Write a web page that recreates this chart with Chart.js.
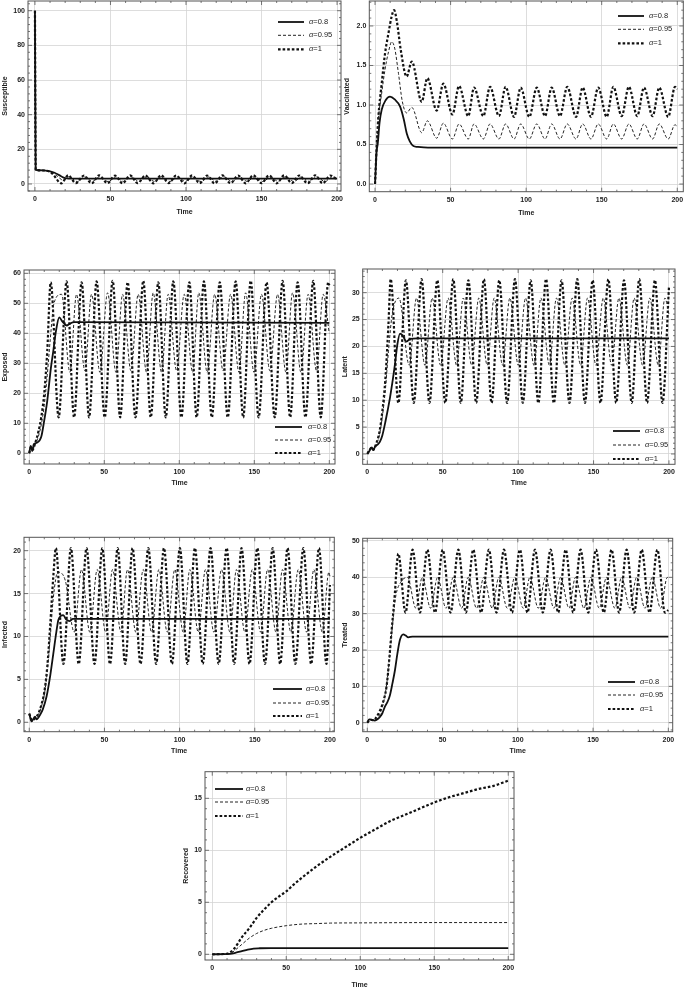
<!DOCTYPE html>
<html><head><meta charset="utf-8">
<script src="https://cdn.jsdelivr.net/npm/chart.js@4.4.0/dist/chart.umd.min.js"></script>
<style>
html,body{margin:0;padding:0;background:#fff;overflow:hidden;width:685px;height:988px;position:relative}
canvas{position:absolute;display:block}
</style></head><body>
<script>
// ---------------- DATA ----------------
const seriesLabels = ['α=0.8', 'α=0.95', 'α=1'];
const xTickStep = 50;

// Susceptible
const S_a08 = [[0,100],[0.5,8.2],[5,7.9],[10,7.3],[13,6.5],[16,5.1],[19,3.7],[21,3.2],[24,3.1],[200,3.1]];
const S_a095 = [[0,100],[0.5,8.2],[5,7.9],[10,7.2],[13,6],[16,3.6],[19,2],[22.5,4.2],[28,1.4],[33,4.1],[38,1.5],[43,4.2],[48.5,1.4],[53.5,4.1],[58.5,1.5],[63.5,4.2],[69,1.4],[74,4.1],[79,1.5],[84,4.2],[89.5,1.4],[94.5,4.1],[99.5,1.5],[104.5,4.2],[110,1.4],[115,4.1],[120,1.5],[125,4.2],[130.5,1.4],[135.5,4.1],[140.5,1.5],[145.5,4.2],[151,1.4],[156,4.1],[161,1.5],[166,4.2],[171.5,1.4],[176.5,4.1],[181.5,1.5],[186.5,4.2],[192,1.4],[197,4.1],[200,2.6]];
const S_a1 = [[0,100],[0.5,8.2],[5,7.8],[10,7],[13,4.5],[16,1],[17.5,0.4],[22,5],[27,0.5],[32.5,4.9],[37.5,0.4],[42.5,5],[48,0.5],[53,4.9],[58,0.4],[63,5],[68,0.5],[73,4.9],[78.5,0.4],[83.5,5],[88.5,0.5],[93.5,4.9],[99,0.4],[104,5],[109,0.5],[114,4.9],[119,0.4],[124,5],[129.5,0.5],[134.5,4.9],[139.5,0.4],[144.5,5],[150,0.5],[155,4.9],[160,0.4],[165,5],[170,0.5],[175,4.9],[180.5,0.4],[185.5,5],[190.5,0.5],[195.5,4.9],[200,2.5]];

// Vaccinated
const V_a08 = [[0,0],[1,0.4],[1.8,0.51],[3,0.78],[4.4,0.94],[7,1.06],[9.9,1.105],[13,1.07],[16.6,0.98],[19,0.82],[21,0.64],[23,0.54],[25.4,0.48],[28,0.47],[35,0.46],[200,0.46]];
const V_a095 = [[0,0],[1,0.45],[2.2,0.82],[4.4,1.15],[6.6,1.45],[9,1.68],[11,1.8],[13,1.72],[15.5,1.4],[18,1.05],[20.9,0.9],[24.3,0.97],[30.9,0.65],[34.6,0.8],[40.8,0.58],[45.2,0.77],[51.2,0.57],[55.6,0.76],[61.7,0.57],[65.5,0.76],[71.7,0.57],[76.1,0.76],[82,0.57],[86.4,0.76],[92,0.57],[96.4,0.76],[102.1,0.57],[107,0.76],[112.5,0.57],[116.9,0.76],[122.4,0.57],[127.2,0.76],[133,0.57],[137.4,0.76],[142.9,0.57],[147.7,0.76],[153.3,0.57],[157.7,0.76],[163.2,0.57],[168,0.76],[173.5,0.57],[178,0.76],[183.7,0.57],[188.1,0.76],[194,0.57],[198.5,0.75],[200,0.73]];
const V_a1 = [[0,0],[1,0.45],[2.2,0.85],[4.4,1.27],[6.6,1.65],[8.8,1.9],[11,2.12],[12.6,2.2],[14.5,2.05],[17,1.7],[20.9,1.36],[24.3,1.55],[30.9,1.04],[34.6,1.34],[40.8,0.93],[45.2,1.27],[51.2,0.88],[55.6,1.24],[61.7,0.86],[65.5,1.22],[71.7,0.86],[76.1,1.23],[82,0.86],[86.4,1.23],[92,0.85],[96.4,1.22],[102.1,0.85],[107,1.22],[112.5,0.86],[116.9,1.22],[122.4,0.86],[127.2,1.23],[133,0.85],[137.4,1.22],[142.9,0.85],[147.7,1.22],[153.3,0.85],[157.7,1.23],[163.2,0.86],[168,1.23],[173.5,0.86],[178,1.22],[183.7,0.86],[188.1,1.22],[194,0.85],[198.5,1.23],[200,1.2]];

// Exposed
const E_a08 = [[0,0],[1,2.5],[2,0.8],[3,3],[5,3.5],[8,5.5],[10,11],[12,17.5],[14.4,28.3],[16,34],[17.8,40.7],[20,45.3],[22,44],[25,42.6],[27,43.2],[30,43.7],[200,43.5]];
const E_a095 = [[0,0],[1,2],[2,1],[4,3],[6,5.5],[8,9.5],[10,16],[12,26],[14,38],[16.5,50],[21.5,53],[27.1,27],[31.5,53],[37.1,27.5],[41.5,53],[47.1,27],[52.2,53.5],[57.8,27],[62.2,53],[67.8,27.5],[72.6,53],[78.2,27],[82.6,53.5],[88.2,27],[92.6,53],[98.2,27.5],[103.3,53],[108.9,27],[113,53.5],[118.6,27],[123.6,53],[129.2,27.5],[134.2,53],[139.8,27],[144.2,53.5],[149.8,27],[154.8,53],[160.4,27.5],[165.5,53],[171.1,27],[175.5,53.5],[181.1,27],[185.9,53],[191.5,27.5],[195.9,53],[200,40]];
const E_a1 = [[0,0],[1,2],[2,1],[4,3.5],[6,7],[8,12],[10,20],[12,34],[14.3,57],[19.6,12],[24.9,57.3],[29.9,12],[34.9,57],[39.9,12],[44.9,57.3],[50.3,12],[55.6,57.5],[60.6,12],[65.6,57],[70.8,12],[76,57.5],[81,12],[86,57],[91,12],[96,57.3],[101.4,12],[106.7,57],[111.6,12],[116.4,57.3],[121.7,12],[127,57],[132.3,12],[137.6,57.3],[142.6,12],[147.6,57.5],[152.9,12],[158.2,57],[163.6,12],[168.9,57.5],[173.9,12],[178.9,57],[184.1,12],[189.3,57.5],[194.3,12],[199.3,57],[200,56]];

// Latent
const L_a08 = [[0,0],[1,0.4],[3,1.2],[4,0.7],[5,1.3],[7,1.8],[8.4,2.3],[10,3.5],[12,6],[15,10.4],[17,14],[18.3,16.6],[20,20.5],[21.7,22.4],[23.5,22],[26,20.9],[28.5,21.4],[33,21.5],[200,21.5]];
const L_a095 = [[0,0],[1,0.5],[3,1.2],[4,0.7],[6,1.8],[8,3.5],[10,7],[12,12],[14,19],[16.5,26],[21,29],[27.8,16.5],[32.6,29],[38.2,16.5],[43,29],[48.6,16.5],[53.6,29],[59.2,16.5],[63.6,29],[69.2,16.5],[73.9,29],[79.5,16.5],[84.1,29],[89.7,16.5],[94.5,29],[100.1,16.5],[104.9,29],[110.5,16.5],[115.1,29],[120.7,16.5],[125.4,29],[131,16.5],[135.8,29],[141.4,16.5],[146,29],[151.6,16.5],[156.4,29],[162,16.5],[166.8,29],[172.4,16.5],[176.9,29],[182.5,16.5],[187.3,29],[192.9,16.5],[197.3,29],[200,26]];
const L_a1 = [[0,0],[1,0.5],[3,1.2],[4,0.8],[6,2],[8,4],[10,8],[12,14],[14,24],[15.5,32.5],[20.6,9.5],[25.6,32.3],[30.8,9.5],[36,32.5],[41.2,9.5],[46.4,32.3],[51.7,9.5],[57,32.5],[62,9.5],[67,32.3],[72.2,9.5],[77.3,32.5],[82.4,9.5],[87.5,32.3],[92.7,9.5],[97.9,32.5],[103.1,9.5],[108.3,32.3],[113.4,9.5],[118.5,32.5],[123.7,9.5],[128.8,32.3],[134,9.5],[139.2,32.5],[144.3,9.5],[149.4,32.3],[154.6,9.5],[159.8,32.5],[165,9.5],[170.2,32.3],[175.3,9.5],[180.3,32.5],[185.5,9.5],[190.7,32.3],[195.7,9.5],[200,31]];

// Infected
const I_a08 = [[0,1],[1.5,0.1],[3.8,0.65],[4.9,0.35],[7.1,0.85],[9,1.5],[11.5,3],[14,5.5],[16,8],[18,10.5],[19.3,11.9],[21,12.4],[22.6,12.5],[24.5,12],[27,11.8],[29,12.05],[33,12.05],[200,12.05]];
const I_a095 = [[0,1],[1.5,0.2],[4,0.6],[6,0.9],[8,1.8],[10,3.2],[12,6],[14,10],[16,14.5],[19,17.5],[24,16.5],[29.9,10.5],[34.7,17.8],[40.3,10.5],[45.2,17.8],[50.8,10.5],[55.4,17.8],[61,10.5],[65.3,17.8],[70.9,10.5],[75.8,17.8],[81.4,10.5],[86.2,17.8],[91.8,10.5],[96.8,17.8],[102.4,10.5],[106.8,17.8],[112.4,10.5],[117.2,17.8],[122.8,10.5],[127.9,17.8],[133.5,10.5],[137.8,17.8],[143.4,10.5],[148.3,17.8],[153.9,10.5],[158.5,17.8],[164.1,10.5],[168.4,17.8],[174,10.5],[178.9,17.8],[184.5,10.5],[189.3,17.8],[194.9,10.5],[199.3,17.5],[200,17]];
const I_a1 = [[0,1],[1,0.5],[2,0.2],[4,0.5],[6,1],[8,2],[10,3.5],[12,6.5],[14,11.5],[16,17],[17.7,20.3],[22.7,6.8],[27.7,20.3],[32.9,6.8],[38.1,20.3],[43.4,6.8],[48.6,20.3],[53.7,6.8],[58.8,20.3],[63.8,6.8],[68.7,20.3],[74,6.8],[79.2,20.3],[84.4,6.8],[89.6,20.3],[94.9,6.8],[100.2,20.3],[105.2,6.8],[110.2,20.3],[115.4,6.8],[120.6,20.3],[126,6.8],[131.3,20.3],[136.3,6.8],[141.2,20.3],[146.5,6.8],[151.7,20.3],[156.8,6.8],[161.9,20.3],[166.9,6.8],[171.8,20.3],[177,6.8],[182.3,20.3],[187.5,6.8],[192.7,20.3],[197.7,6.8],[200,16]];

// Treated
const T_a08 = [[0,0],[1.3,0.9],[3,0.8],[5,0.6],[7,1],[8.4,1.6],[10,2.6],[11.7,4.4],[13.5,5.8],[15,7.5],[16.7,10.8],[18.4,14.5],[20,19],[21.7,22.8],[23.9,24.3],[25.5,24],[27.2,23.5],[30,23.7],[200,23.7]];
const T_a095 = [[0,0],[1.3,0.9],[3,0.8],[5,0.8],[7,1.3],[9,3],[11,6],[13,11],[15,19],[17,28],[19,35],[22,38.5],[26.7,40],[32.3,31.5],[36.5,40],[42.1,31.5],[46.7,40],[52.3,31.5],[57.1,40],[62.7,31.5],[67,40],[72.6,31.5],[77.4,40],[83,31.5],[87.4,40],[93,31.5],[98,40],[103.6,31.5],[108,40],[113.6,31.5],[118.4,40],[124,31.5],[128.4,40],[134,31.5],[138.3,40],[143.9,31.5],[148.5,40],[154.1,31.5],[158.9,40],[164.5,31.5],[168.9,40],[174.5,31.5],[178.9,40],[184.5,31.5],[189.3,40],[194.9,31.5],[199.3,40],[200,39.5]];
const T_a1 = [[0,0],[2,0.8],[4,0.7],[6,1.5],[8,3],[10,5],[12.8,10],[14.5,17],[16.2,25.5],[18.4,36],[19.5,43],[20.6,46.5],[25.4,30.3],[30.1,47.6],[35,30.3],[39.9,47.6],[45,30.3],[50.1,47.6],[55.3,30.3],[60.5,47.6],[65.5,30.3],[70.4,47.6],[75.6,30.3],[80.8,47.6],[85.8,30.3],[90.8,47.6],[96.1,30.3],[101.4,47.6],[106.4,30.3],[111.4,47.6],[116.6,30.3],[121.8,47.6],[126.8,30.3],[131.8,47.6],[136.8,30.3],[141.7,47.6],[146.8,30.3],[151.9,47.6],[157.1,30.3],[162.3,47.6],[167.3,30.3],[172.3,47.6],[177.3,30.3],[182.3,47.6],[187.5,30.3],[192.7,47.6],[197.7,30.3],[200,31]];

// Recovered
const R_a08 = [[0,0],[12,0.03],[16,0.15],[20,0.3],[24,0.45],[28,0.55],[32,0.58],[40,0.6],[200,0.6]];
const R_a095 = [[0,0],[12,0.05],[15,0.35],[20,0.95],[25,1.55],[30,2],[35,2.3],[40,2.5],[50,2.75],[60,2.9],[70,2.95],[80,3],[100,3.02],[150,3.05],[200,3.05]];
const R_a1 = [[0,0],[10,0.05],[14.9,0.55],[19.8,1.6],[25,2.5],[30,3.5],[35,4.3],[40,5],[45,5.55],[50,6.05],[55,6.7],[60,7.3],[70,8.4],[80,9.4],[90,10.3],[100,11.2],[110,12],[120,12.8],[130,13.4],[140,14],[150,14.6],[160,15.1],[170,15.5],[180,15.9],[190,16.2],[200,16.7]];

// ---------------- LAYOUT / STYLE ----------------
const lineStyles = [
  {color:'#111', width:1.8, dash:[]},
  {color:'#222', width:1.0, dash:[3,2]},
  {color:'#111', width:2.2, dash:[2.6,2]}
];
const panels = [
  {title:'Susceptible', series:[S_a08,S_a095,S_a1], frame:[28,1,341,191], yTX:5, xTY:212, x:[-4.6,202.6], y:[-4.04,105.6], yStep:20, dec:0, leg:{x1:278,x2:304,tx:309,rows:[22,35.3,49.3]}},
  {title:'Vaccinated', series:[V_a08,V_a095,V_a1], frame:[369.3,1,683.3,191.7], yTX:347, xTY:213, x:[-3.8,204], y:[-0.097,2.316], yStep:0.5, dec:1, leg:{x1:618,x2:644,tx:649,rows:[16,29.3,43.3]}},
  {title:'Exposed', series:[E_a08,E_a095,E_a1], frame:[24,270,335,464], yTX:5, xTY:483, x:[-3.5,203.8], y:[-3.57,61.1], yStep:10, dec:0, leg:{x1:275,x2:302,tx:308,rows:[427,440,453]}},
  {title:'Latent', series:[L_a08,L_a095,L_a1], frame:[362.7,269,675,464.3], yTX:345, xTY:483, x:[-3.05,204], y:[-1.92,34.4], yStep:5, dec:0, leg:{x1:613,x2:640,tx:645,rows:[431,445,459]}},
  {title:'Infected', series:[I_a08,I_a095,I_a1], frame:[24,537.3,334.3,731.7], yTX:5, xTY:750.7, x:[-3.5,202.9], y:[-1.1,21.56], yStep:5, dec:0, leg:{x1:273,x2:302,tx:306,rows:[689,703,716]}},
  {title:'Treated', series:[T_a08,T_a095,T_a1], frame:[362.7,538.3,672.7,731.7], yTX:345, xTY:751, x:[-3.05,202.9], y:[-2.48,50.74], yStep:10, dec:0, leg:{x1:608,x2:635,tx:640,rows:[682,695,709]}},
  {title:'Recovered', series:[R_a08,R_a095,R_a1], frame:[205,771.7,514,960], yTX:186, xTY:985, x:[-4.9,203.9], y:[-0.55,17.56], yStep:5, dec:0, leg:{x1:215,x2:243,tx:246,rows:[789,802,816]}}
];

const FONT = '"Liberation Sans", Arial, sans-serif';
const HALF_LH = 7 * 1.2 / 2;

const framePlugin = {
  id: 'frameDeco',
  afterDraw(chart, args, o) {
    const {ctx, chartArea: a, scales: {x, y}} = chart;
    ctx.save();
    ctx.strokeStyle = '#555';
    ctx.lineWidth = 0.8;
    ctx.setLineDash([]);
    const tickSet = (scale, major, horiz) => {
      const minor = major / 5;
      const k0 = Math.ceil(scale.min / minor), k1 = Math.floor(scale.max / minor);
      for (let k = k0; k <= k1; k++) {
        const v = k * minor;
        const isMajor = (k % 5 === 0);
        const len = isMajor ? 4 : 2;
        const p = scale.getPixelForValue(v);
        ctx.beginPath();
        if (horiz) {
          ctx.moveTo(p, a.bottom); ctx.lineTo(p, a.bottom - len);
          ctx.moveTo(p, a.top); ctx.lineTo(p, a.top + len);
        } else {
          ctx.moveTo(a.left, p); ctx.lineTo(a.left + len, p);
          ctx.moveTo(a.right, p); ctx.lineTo(a.right - len, p);
        }
        ctx.stroke();
      }
    };
    tickSet(x, o.xStep, true);
    tickSet(y, o.yStep, false);
    ctx.strokeStyle = '#555';
    ctx.lineWidth = 1;
    ctx.strokeRect(a.left, a.top, a.right - a.left, a.bottom - a.top);
    const L = o.leg;
    chart.data.datasets.forEach((ds, i) => {
      const yy = L.rows[i] - o.oy;
      ctx.beginPath();
      ctx.strokeStyle = ds.borderColor;
      ctx.lineWidth = ds.borderWidth;
      ctx.setLineDash(ds.borderDash);
      ctx.moveTo(L.x1 - o.ox, yy);
      ctx.lineTo(L.x2 - o.ox, yy);
      ctx.stroke();
      ctx.setLineDash([]);
      ctx.fillStyle = '#222';
      ctx.textBaseline = 'middle';
      ctx.textAlign = 'left';
      const lab = ds.label;
      ctx.font = 'italic 7.5px ' + FONT;
      const g = lab.charAt(0);
      ctx.fillText(g, L.tx - o.ox, yy);
      const gw = ctx.measureText(g).width;
      ctx.font = '7.5px ' + FONT;
      ctx.fillText(lab.slice(1), L.tx - o.ox + gw, yy);
    });
    ctx.restore();
  }
};

panels.forEach(p => {
  const [L, T, R, B] = p.frame;
  const left = Math.round(p.yTX - HALF_LH);
  const top = Math.floor(T - 2);
  const right = Math.ceil(R + 8);
  const bottom = Math.round(p.xTY + HALF_LH);
  const yW = L - left, padTop = T - top, padRight = right - R, xH = bottom - B;
  const cv = document.createElement('canvas');
  cv.width = right - left; cv.height = bottom - top;
  cv.style.left = left + 'px'; cv.style.top = top + 'px';
  cv.style.width = (right - left) + 'px'; cv.style.height = (bottom - top) + 'px';
  document.body.appendChild(cv);
  const datasets = p.series.map((s, i) => ({
    label: seriesLabels[i],
    data: s.map(([t, v]) => ({x: t, y: v})),
    borderColor: lineStyles[i].color,
    borderWidth: lineStyles[i].width,
    borderDash: lineStyles[i].dash,
    pointRadius: 0,
    fill: false,
    cubicInterpolationMode: 'monotone'
  }));
  new Chart(cv, {
    type: 'line',
    data: {datasets},
    options: {
      responsive: false, animation: false, devicePixelRatio: 1,
      layout: {padding: {left: 0, top: padTop, right: padRight, bottom: 0}},
      plugins: {legend: {display: false}, tooltip: {enabled: false},
        frameDeco: {leg: p.leg, ox: left, oy: top, xStep: xTickStep, yStep: p.yStep}},
      scales: {
        x: {
          type: 'linear', min: p.x[0], max: p.x[1],
          grid: {color: '#d4d4d4', lineWidth: 0.8, drawTicks: false},
          border: {display: false},
          ticks: {stepSize: xTickStep, includeBounds: false, autoSkip: false, maxRotation: 0,
            padding: 4, color: '#222', font: {family: FONT, size: 7, weight: 'bold'}},
          title: {display: true, text: 'Time', padding: 0, color: '#222', font: {family: FONT, size: 7, weight: 'bold'}},
          afterFit(s) { s.height = xH; s.paddingLeft = 0; s.paddingRight = 0; }
        },
        y: {
          type: 'linear', min: p.y[0], max: p.y[1],
          grid: {color: '#d4d4d4', lineWidth: 0.8, drawTicks: false},
          border: {display: false},
          ticks: {stepSize: p.yStep, includeBounds: false, autoSkip: false, padding: 3, color: '#222',
            font: {family: FONT, size: 7, weight: 'bold'},
            callback: v => Number(v).toFixed(p.dec)},
          title: {display: true, text: p.title, padding: 0, color: '#222', font: {family: FONT, size: 7, weight: 'bold'}},
          afterFit(s) { s.width = yW; s.paddingTop = 0; s.paddingBottom = 0; }
        }
      }
    },
    plugins: [framePlugin]
  });
});
</script>
</body></html>
